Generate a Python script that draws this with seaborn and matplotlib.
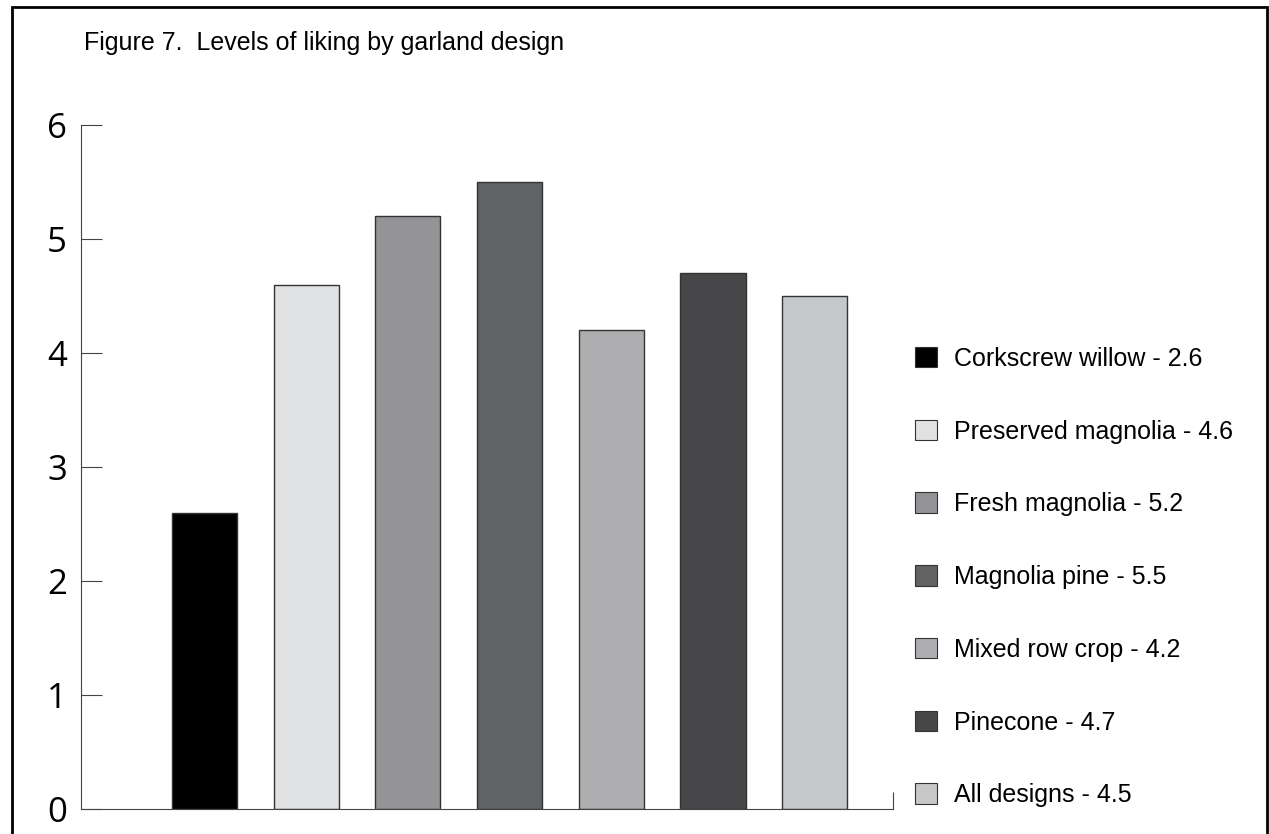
import pandas as pd
import matplotlib.pyplot as plt
import matplotlib.patches as mpatches
import seaborn as sns

##### DATA #####
designs = ['Corkscrew willow', 'Preserved magnolia', 'Fresh magnolia', 'Magnolia pine',
           'Mixed row crop', 'Pinecone', 'All designs']
liking = [2.6, 4.6, 5.2, 5.5, 4.2, 4.7, 4.5]
bar_colors = ['#000000', '#e0e1e3', '#939498', '#616264', '#adaeb1', '#474749', '#c6c7c9']
yticks = [0, 1, 2, 3, 4, 5, 6]

df = pd.DataFrame({'design': designs, 'liking': liking})

##### PLOT #####
sns.set_style('white')
plt.rcParams['font.family'] = ['Liberation Sans', 'DejaVu Sans']
plt.rcParams['text.color'] = 'black'
plt.rcParams['ytick.labelcolor'] = 'black'

fig = plt.figure(figsize=(12.69, 8.34), dpi=100)
ax = fig.add_axes([81 / 1269, 1 - 809 / 834, (893 - 81) / 1269, (809 - 125) / 834])

sns.barplot(data=df, x='design', y='liking', hue='design', palette=bar_colors,
            width=0.64, edgecolor='#333333', linewidth=1.0, legend=False, ax=ax)

xmin, xmax = -1.214, 6.77
ax.set_xlim(xmin, xmax)
ax.set_ylim(0, 6)
ax.set_xlabel('')
ax.set_ylabel('')

# y axis: inward ticks, big labels
ax.set_yticks(yticks)
ax.set_yticklabels([str(t) for t in yticks], fontsize=25, family=['Open Sans', 'DejaVu Sans'],
                   color='black')
ax.tick_params(axis='y', direction='in', length=15, width=0.8, color='#444444', pad=10, left=True)

# x axis: single small tick at the right end
ax.set_xticks([xmax])
ax.set_xticklabels([''])
ax.tick_params(axis='x', direction='in', length=12, width=0.8, color='#444444', bottom=True)

for side in ['top', 'right']:
    ax.spines[side].set_visible(False)
for side in ['left', 'bottom']:
    ax.spines[side].set_color('#444444')
    ax.spines[side].set_linewidth(0.8)

# legend
handles = [mpatches.Patch(facecolor=c, edgecolor='#333333', linewidth=0.8) for c in bar_colors]
labels = [f'{d} - {v}' for d, v in zip(designs, liking)]
fig.legend(handles, labels, loc='center left', bbox_to_anchor=(915 / 1269, 1 - 577 / 834),
           frameon=False, fontsize=18, handlelength=0.88, handleheight=0.88,
           handletextpad=0.68, labelspacing=1.95, borderpad=0, borderaxespad=0,
           labelcolor='black')

# title
fig.text(84 / 1269, 1 - 43 / 834, 'Figure 7.  Levels of liking by garland design',
         fontsize=18, va='center', ha='left', color='black')

# outer frame
frame = mpatches.Rectangle((12 / 1269, -0.05), (1267 - 12) / 1269, 1.05 - 7 / 834,
                           transform=fig.transFigure, fill=False, edgecolor='black',
                           linewidth=2, clip_on=False)
fig.patches.append(frame)

fig.savefig('out.png', dpi=100)
